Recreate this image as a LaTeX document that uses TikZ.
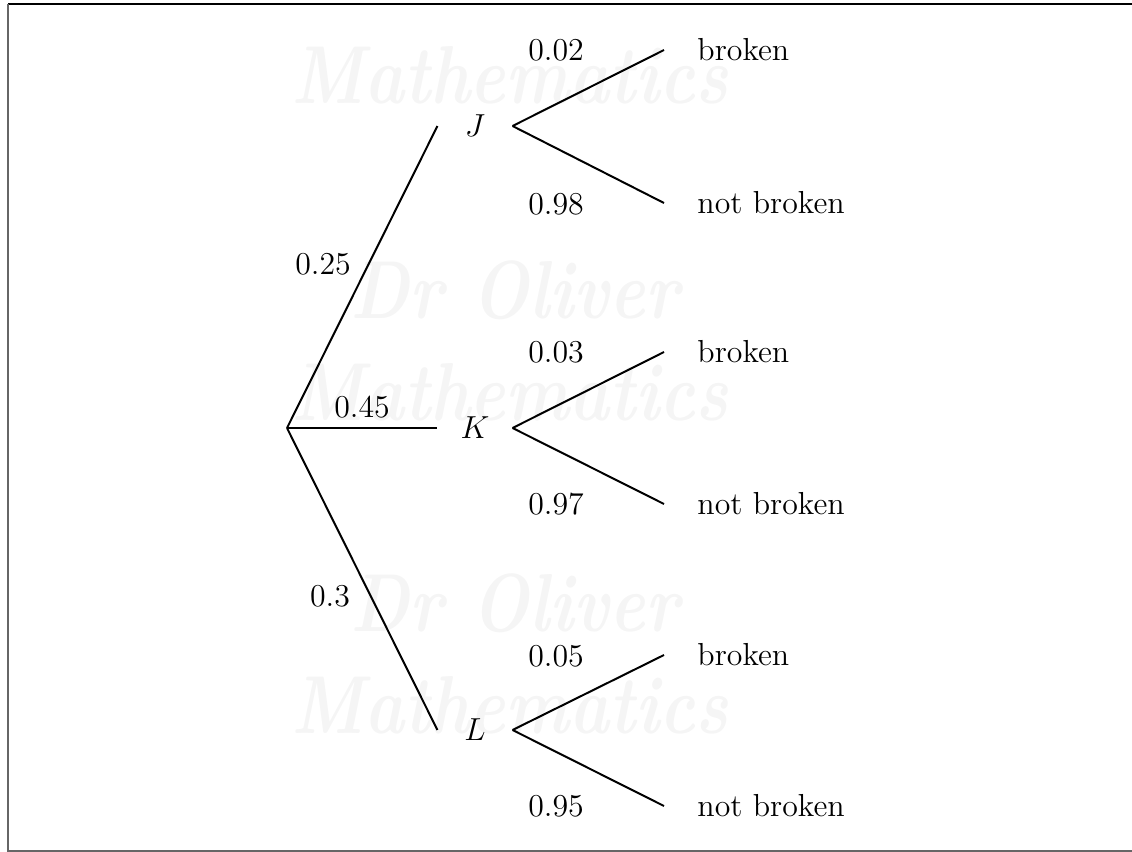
\documentclass[tikz,border=0pt,12pt]{standalone}
\begin{document}
\begin{tikzpicture}[x=0.01325cm,y=-0.01325cm,
  branch/.style={line width=0.75pt},
  stage/.style={inner sep=0pt,minimum width=27.9pt,minimum height=12pt},
  outcome/.style={anchor=west,inner xsep=12.4pt,inner ysep=0pt},
  prob/.style={inner sep=0pt},
  mark text/.style={text=black!4,inner sep=0pt,xscale=0.82,
    font=\fontsize{31}{36}\selectfont\bfseries\itshape}]
  \useasboundingbox (0,0) rectangle (1132,852);
  % page frame
  \draw[black,line width=0.5pt] (8,4) -- (1132,4);
  \draw[black!60,line width=0.8pt] (8,4) -- (8,851) -- (1132,851);
  % watermark
  \node[mark text] (w1) at (510,75) {Mathematics};
  \node[mark text] (w2) at (515,290) {Dr Oliver};
  \node[mark text] (w3) at (510,392) {Mathematics};
  \node[mark text] (w4) at (515,603) {Dr Oliver};
  \node[mark text] (w5) at (510,705) {Mathematics};
  % first stage
  \coordinate (root) at (287,428);
  \node[stage] (J) at (475,126) {$J$};
  \node[stage] (K) at (475,428) {$K$};
  \node[stage] (L) at (475,730) {$L$};
  \draw[branch] (root) -- (J.west);
  \draw[branch] (root) -- (K.west);
  \draw[branch] (root) -- (L.west);
  \node[prob] (pJ) at (323,264) {0.25};
  \node[prob] (pK) at (362,407) {0.45};
  \node[prob] (pL) at (330,596) {0.3};
  % second stage
  \node[outcome] (Jb) at (664,50) {broken};
  \node[outcome] (Jn) at (664,203) {not broken};
  \node[outcome] (Kb) at (664,352) {broken};
  \node[outcome] (Kn) at (664,504) {not broken};
  \node[outcome] (Lb) at (664,655) {broken};
  \node[outcome] (Ln) at (664,806) {not broken};
  \draw[branch] (J.east) -- (Jb.west);
  \draw[branch] (J.east) -- (Jn.west);
  \draw[branch] (K.east) -- (Kb.west);
  \draw[branch] (K.east) -- (Kn.west);
  \draw[branch] (L.east) -- (Lb.west);
  \draw[branch] (L.east) -- (Ln.west);
  \node[prob] (pJb) at (556,50) {0.02};
  \node[prob] (pJn) at (556,204) {0.98};
  \node[prob] (pKb) at (556,352) {0.03};
  \node[prob] (pKn) at (556,504) {0.97};
  \node[prob] (pLb) at (556,656) {0.05};
  \node[prob] (pLn) at (556,806) {0.95};
\end{tikzpicture}
\end{document}
